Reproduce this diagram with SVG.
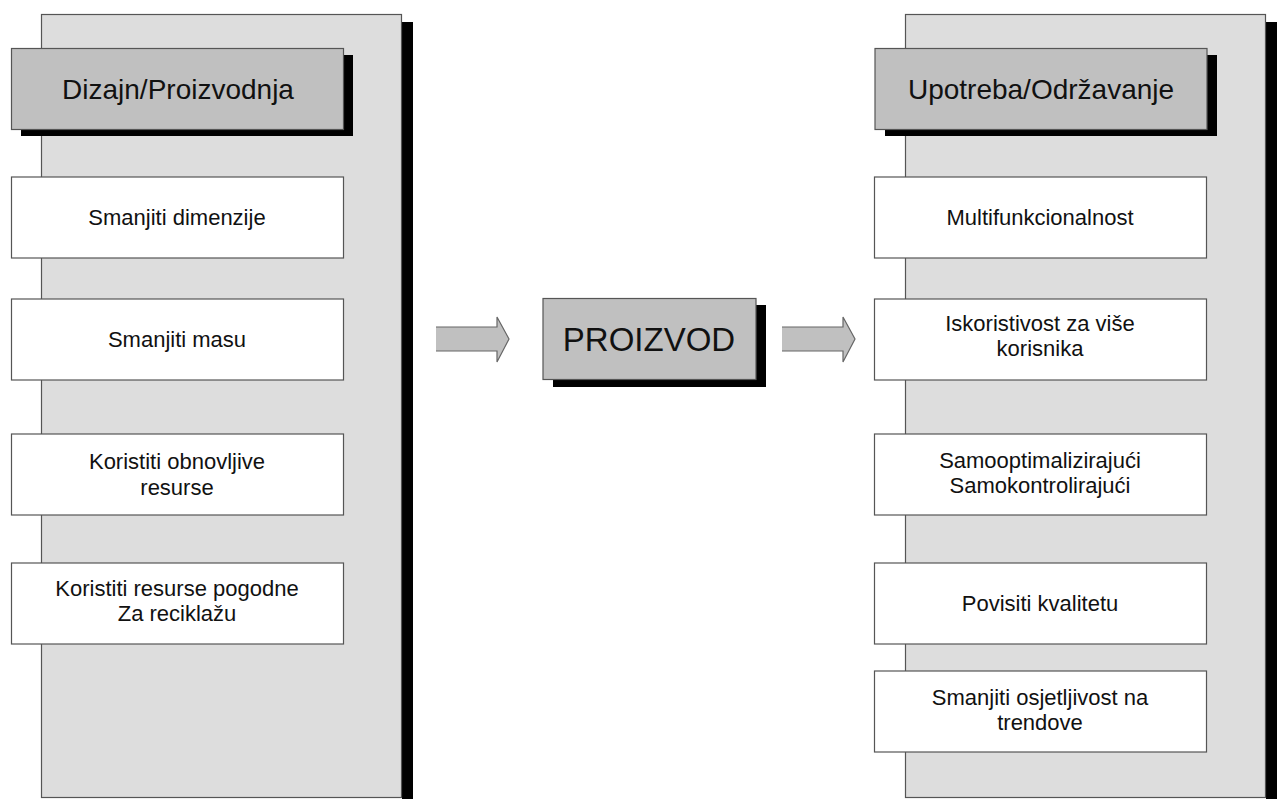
<svg xmlns="http://www.w3.org/2000/svg" width="1277" height="799" viewBox="0 0 1277 799">
<style>
.panel{fill:#dddddd;stroke:#555555;stroke-width:1.2}
.shadow{fill:#000000}
.head{fill:#c0c0c0;stroke:#555555;stroke-width:1.2}
.box{fill:#ffffff;stroke:#555555;stroke-width:1.2}
.arrow{fill:#c0c0c0;stroke:none}
.arrowline{fill:none;stroke:#666666;stroke-width:1.2}
text{font-family:"Liberation Sans",Arial,sans-serif;fill:#111111;text-anchor:middle}
.t{font-size:22px}
.h{font-size:28px}
.p{font-size:33px}
</style>
<rect width="1277" height="799" fill="#ffffff"/>
<g id="left-panel">
<rect class="shadow" x="402" y="22" width="11" height="777"/>
<rect class="panel" x="41.5" y="14.5" width="360" height="783"/>
</g>
<g id="right-panel">
<rect class="shadow" x="1266" y="22" width="11" height="777"/>
<rect class="panel" x="905.5" y="14.5" width="360" height="783"/>
</g>
<g id="left-header">
<rect class="shadow" x="21" y="55" width="332" height="81"/>
<rect class="head" x="11.5" y="48.5" width="332" height="81"/>
<text class="h" x="178" y="99">Dizajn/Proizvodnja</text>
</g>
<g id="right-header">
<rect class="shadow" x="885" y="55" width="332" height="81"/>
<rect class="head" x="875" y="48.5" width="332" height="81"/>
<text class="h" x="1041" y="99">Upotreba/Održavanje</text>
</g>
<g id="l1"><rect class="box" x="11.5" y="177" width="332" height="81"/><text class="t" x="177" y="225">Smanjiti dimenzije</text></g>
<g id="l2"><rect class="box" x="11.5" y="299" width="332" height="81"/><text class="t" x="177" y="347">Smanjiti masu</text></g>
<g id="l3"><rect class="box" x="11.5" y="434" width="332" height="81"/><text class="t" x="177" y="469">Koristiti obnovljive</text><text class="t" x="177" y="495">resurse</text></g>
<g id="l4"><rect class="box" x="11.5" y="563" width="332" height="81"/><text class="t" x="177" y="596">Koristiti resurse pogodne</text><text class="t" x="177" y="621">Za reciklažu</text></g>
<g id="r1"><rect class="box" x="874.5" y="177" width="332" height="81"/><text class="t" x="1040" y="225">Multifunkcionalnost</text></g>
<g id="r2"><rect class="box" x="874.5" y="299" width="332" height="81"/><text class="t" x="1040" y="331">Iskoristivost za više</text><text class="t" x="1040" y="356">korisnika</text></g>
<g id="r3"><rect class="box" x="874.5" y="434" width="332" height="81"/><text class="t" x="1040" y="468">Samooptimalizirajući</text><text class="t" x="1040" y="493">Samokontrolirajući</text></g>
<g id="r4"><rect class="box" x="874.5" y="563" width="332" height="81"/><text class="t" x="1040" y="611">Povisiti kvalitetu</text></g>
<g id="r5"><rect class="box" x="874.5" y="671" width="332" height="81"/><text class="t" x="1040" y="705">Smanjiti osjetljivost na</text><text class="t" x="1040" y="730">trendove</text></g>
<g id="product">
<rect class="shadow" x="553" y="305" width="213" height="82"/>
<rect class="head" x="543" y="298.5" width="213" height="81"/>
<text class="p" x="649" y="351">PROIZVOD</text>
</g>
<g id="connectors">
<polygon class="arrow" points="436,327 497,327 497,317 509,339 497,362 497,351 436,351"/>
<polyline class="arrowline" points="436,327 497,327 497,317 509,339 497,362 497,351 436,351"/>
<polygon class="arrow" points="782,327 843,327 843,317 855,339 843,362 843,351 782,351"/>
<polyline class="arrowline" points="782,327 843,327 843,317 855,339 843,362 843,351 782,351"/>
</g>
</svg>
